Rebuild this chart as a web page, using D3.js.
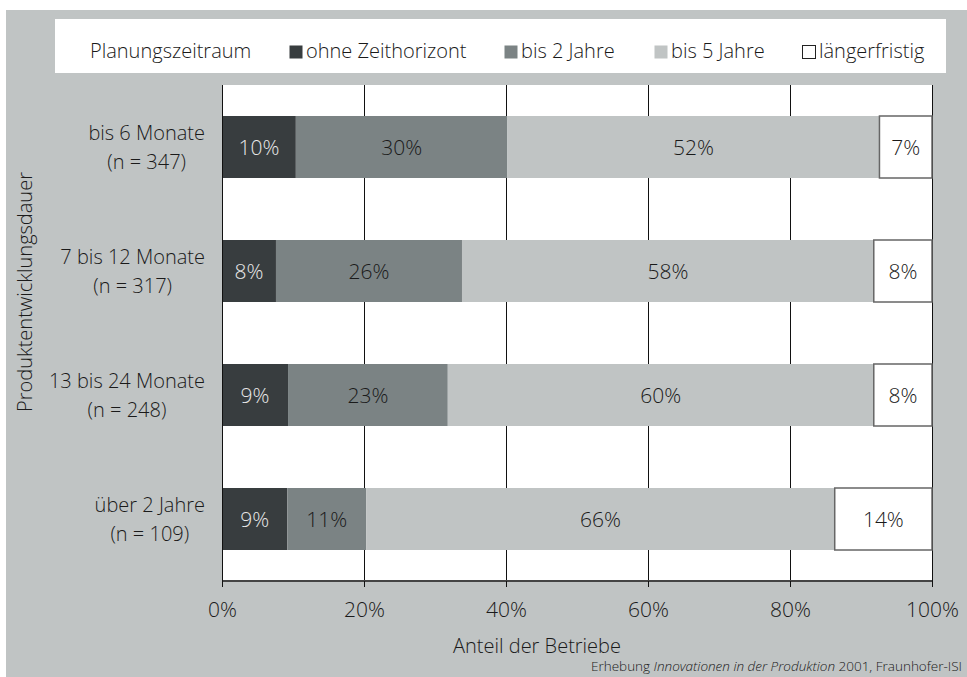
<!DOCTYPE html>
<html>
<head>
<meta charset="utf-8">
<script src="https://cdn.jsdelivr.net/npm/d3@7"></script>
<style>
  body { margin: 0; background: #fff; }
  svg { display: block; font-family: "Open Sans", "Noto Sans", sans-serif; font-weight: 300; }
</style>
</head>
<body>
<div id="chart"></div>
<script>
// Basic Setup
var width = 967,
    height = 677;

// Data (in percent)
var categories = ["bis 6 Monate", "7 bis 12 Monate", "13 bis 24 Monate", "über 2 Jahre"];
var sampleSizes = ["(n = 347)", "(n = 317)", "(n = 248)", "(n = 109)"];
var seriesNames = ["ohne Zeithorizont", "bis 2 Jahre", "bis 5 Jahre", "längerfristig"];
var ohneZeithorizont = [10.4, 7.6, 9.3, 9.2];
var bis2Jahre = [29.8, 26.2, 22.5, 11.1];
var bis5Jahre = [52.4, 58.0, 60.0, 66.0];
var laengerfristig = [7.4, 8.2, 8.2, 13.7];
var xTicks = [0, 20, 40, 60, 80, 100];

var colors = ["#383d3f", "#7b8384", "#c0c4c4", "#ffffff"];
var labelColors = ["#e8e8e8", "#1a1a1a", "#1a1a1a", "#1a1a1a"];

// table for d3.stack
var table = categories.map(function(c, i) {
  return {
    cat: c,
    "ohne Zeithorizont": ohneZeithorizont[i],
    "bis 2 Jahre": bis2Jahre[i],
    "bis 5 Jahre": bis5Jahre[i],
    "längerfristig": laengerfristig[i]
  };
});

var svg = d3.select("#chart").append("svg")
    .attr("width", width)
    .attr("height", height);

// grey background
svg.append("rect")
    .attr("x", 6).attr("y", 10)
    .attr("width", width - 6).attr("height", height - 10)
    .attr("fill", "#c0c4c4");

// legend box
svg.append("rect")
    .attr("x", 55).attr("y", 19)
    .attr("width", 891).attr("height", 54)
    .attr("fill", "#fff");

var plot = { left: 222, right: 932, top: 85, bottom: 581 };

var x = d3.scaleLinear()
    .domain([0, 100])
    .range([plot.left, plot.right]);

var y = d3.scaleBand()
    .domain(categories)
    .range([plot.top, plot.bottom])
    .paddingInner(0.5)
    .paddingOuter(0.25);

// plot area
svg.append("rect")
    .attr("x", plot.left).attr("y", plot.top)
    .attr("width", plot.right - plot.left).attr("height", plot.bottom - plot.top)
    .attr("fill", "#fff");

// gridlines
svg.append("g")
  .selectAll("line")
    .data(xTicks)
  .enter().append("line")
    .attr("x1", function(d) { return x(d) + 0.5; })
    .attr("x2", function(d) { return x(d) + 0.5; })
    .attr("y1", plot.top)
    .attr("y2", plot.bottom)
    .attr("stroke", "#111")
    .attr("stroke-width", 1);

// bars
var stacked = d3.stack().keys(seriesNames)(table);

var layers = svg.append("g").selectAll("g.layer")
    .data(stacked)
  .enter().append("g")
    .attr("class", "layer");

layers.selectAll("rect")
    .data(function(s, si) { return s.map(function(d) { return { d: d, si: si }; }); })
  .enter().append("rect")
    .attr("x", function(o) { return x(o.d[0]); })
    .attr("y", function(o) { return y(o.d.data.cat); })
    .attr("width", function(o) { return x(o.d[1]) - x(o.d[0]); })
    .attr("height", y.bandwidth())
    .attr("fill", function(o) { return colors[o.si]; })
    .attr("stroke", function(o) { return o.si === 3 ? "#666" : "none"; })
    .attr("stroke-width", 1.5);

layers.selectAll("text")
    .data(function(s, si) { return s.map(function(d) { return { d: d, si: si }; }); })
  .enter().append("text")
    .attr("x", function(o) { return (x(o.d[0]) + x(o.d[1])) / 2; })
    .attr("y", function(o) { return y(o.d.data.cat) + y.bandwidth() / 2; })
    .attr("dy", "0.36em")
    .attr("text-anchor", "middle")
    .attr("font-size", "21px")
    .attr("fill", function(o) { return labelColors[o.si]; })
    .text(function(o) { return Math.round(o.d[1] - o.d[0]) + "%"; });

// x axis
var xAxis = svg.append("g")
    .attr("transform", "translate(0," + plot.bottom + ")")
    .call(d3.axisBottom(x).tickValues(xTicks).tickSize(6).tickFormat(function(d) { return d + "%"; }))
    .attr("font-family", null)
    .attr("font-size", null);

xAxis.select(".domain")
    .attr("stroke", "#444")
    .attr("stroke-width", 2)
    .attr("d", "M" + plot.left + ",0H" + plot.right);
xAxis.selectAll(".tick line").attr("stroke", "#111");
xAxis.selectAll(".tick text")
    .attr("y", 28)
    .attr("dy", "0.36em")
    .attr("font-size", "21px")
    .attr("fill", "#1a1a1a");

// y axis line
svg.append("line")
    .attr("x1", plot.left + 0.5).attr("x2", plot.left + 0.5)
    .attr("y1", plot.top).attr("y2", plot.bottom)
    .attr("stroke", "#111");

// category labels (two lines, centered on each other, right aligned as a block)
var catLabels = svg.append("g").selectAll("g.cat")
    .data(categories)
  .enter().append("g")
    .attr("class", "cat");

catLabels.each(function(c, i) {
  var g = d3.select(this);
  var cy = y(c) + y.bandwidth() / 2;
  var t1 = g.append("text").attr("y", cy - 7.5).text(c);
  var t2 = g.append("text").attr("y", cy + 21.5).text(sampleSizes[i]);
  g.selectAll("text")
      .attr("font-size", "20px")
      .attr("fill", "#1a1a1a")
      .attr("text-anchor", "middle");
  var w = Math.max(t1.node().getComputedTextLength(), t2.node().getComputedTextLength());
  g.selectAll("text").attr("x", 205 - w / 2);
});

// y axis title
svg.append("text")
    .attr("transform", "translate(32,292) rotate(-90)")
    .attr("text-anchor", "middle")
    .attr("font-size", "20px")
    .attr("fill", "#1a1a1a")
    .text("Produktentwicklungsdauer");

// x axis title
svg.append("text")
    .attr("x", 537)
    .attr("y", 653)
    .attr("text-anchor", "middle")
    .attr("font-size", "20px")
    .attr("fill", "#1a1a1a")
    .text("Anteil der Betriebe");

// legend
var legend = svg.append("g");
legend.append("text")
    .attr("x", 90).attr("y", 58)
    .attr("font-size", "20px")
    .attr("fill", "#1a1a1a")
    .text("Planungszeitraum");

var legendX = [289, 504, 654, 802];
var items = legend.selectAll("g.item")
    .data(seriesNames)
  .enter().append("g")
    .attr("class", "item")
    .attr("transform", function(d, i) { return "translate(" + legendX[i] + ",0)"; });

items.append("rect")
    .attr("x", 0.5).attr("y", 45.5)
    .attr("width", 13).attr("height", 13)
    .attr("fill", function(d, i) { return colors[i]; })
    .attr("stroke", function(d, i) { return i === 3 ? "#222" : "none"; });

items.append("text")
    .attr("x", 17).attr("y", 58)
    .attr("font-size", "20px")
    .attr("fill", "#1a1a1a")
    .text(function(d) { return d; });

// source
var src = svg.append("text")
    .attr("x", 962)
    .attr("y", 671)
    .attr("text-anchor", "end")
    .attr("font-size", "13.5px")
    .attr("fill", "#1a1a1a");
src.append("tspan").text("Erhebung ");
src.append("tspan").attr("font-style", "italic").text("Innovationen in der Produktion");
src.append("tspan").text(" 2001, Fraunhofer-ISI");
</script>
</body>
</html>
